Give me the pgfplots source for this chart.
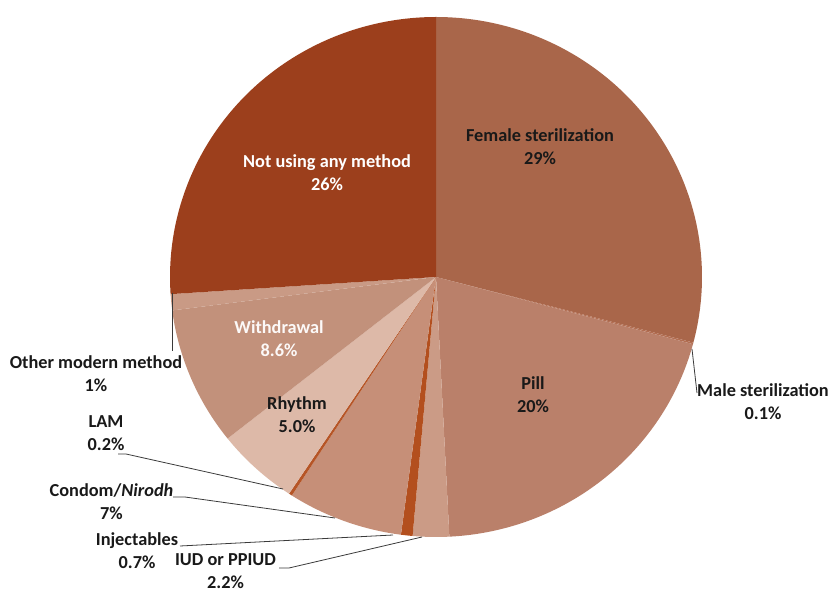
\documentclass[border=0pt]{standalone}
\usepackage{pgfplots}
\usepackage{pgfplotstable}
\pgfplotsset{compat=1.18}
\usepackage{fontspec}
\setmainfont{Carlito}

% slice colours
\definecolor{cFem}{HTML}{A9664A}
\definecolor{cMale}{HTML}{B36E52}
\definecolor{cPill}{HTML}{BA806A}
\definecolor{cIUD}{HTML}{CB9B86}
\definecolor{cInj}{HTML}{B34F1E}
\definecolor{cCond}{HTML}{C68F78}
\definecolor{cLAM}{HTML}{B65526}
\definecolor{cRhy}{HTML}{DDB9A8}
\definecolor{cWith}{HTML}{C2917B}
\definecolor{cOther}{HTML}{C99A85}
\definecolor{cNot}{HTML}{9C3F1C}
\definecolor{leader}{HTML}{3A3A3A}

\tikzset{
  lbl/.style={font=\fontsize{18.3}{23}\selectfont\bfseries, align=center,
    text=black!90, inner sep=0pt},
  lead/.style={leader, line width=0.8pt},
}

% shares in percent, clockwise from 12 o'clock
\pgfplotstableread[col sep=comma]{
share,colour
29,cFem
0.1,cMale
20,cPill
2.2,cIUD
0.7,cInj
7,cCond
0.2,cLAM
5.0,cRhy
8.6,cWith
1,cOther
26,cNot
}\piedata

% total of all shares
\xdef\total{0}
\pgfplotstableforeachcolumnelement{share}\of\piedata\as\v{%
  \pgfmathsetmacro\t{\total+\v}\xdef\total{\t}}

% start and end angle of every slice
\xdef\cum{0}
\pgfplotstableforeachcolumnelement{share}\of\piedata\as\v{%
  \pgfmathsetmacro\a{90-(\cum/\total)*360}%
  \pgfmathsetmacro\c{\cum+\v}\xdef\cum{\c}%
  \pgfmathsetmacro\b{90-(\cum/\total)*360}%
  \expandafter\xdef\csname sliceA\pgfplotstablerow\endcsname{\a}%
  \expandafter\xdef\csname sliceB\pgfplotstablerow\endcsname{\b}}
\pgfplotstableforeachcolumnelement{colour}\of\piedata\as\v{%
  \expandafter\xdef\csname sliceC\pgfplotstablerow\endcsname{\v}}

% pie centre and radii (axis units)
\def\cx{436}\def\cy{315}\def\rx{266}\def\ry{260}

\begin{document}
\begin{tikzpicture}
\begin{axis}[
  scale only axis, width=830pt, height=592pt,
  xmin=0, xmax=830, ymin=0, ymax=592,
  hide axis, clip=false, disabledatascaling,
]
\pgfplotsinvokeforeach{0,...,10}{%
  \edef\slice{\noexpand\fill[\csname sliceC#1\endcsname]
    (axis cs:\cx,\cy) --
    (axis cs:{\cx+\rx*cos(\csname sliceA#1\endcsname)},{\cy+\ry*sin(\csname sliceA#1\endcsname)})
    arc[start angle=\csname sliceA#1\endcsname, end angle=\csname sliceB#1\endcsname,
        x radius=\rx pt, y radius=\ry pt] -- cycle;}%
  \slice
}

% leader lines
\draw[lead] (axis cs:692,243) -- (axis cs:697,199);
\draw[lead] (axis cs:172,299) -- (axis cs:172,241);
\draw[lead] (axis cs:118,138) -- (axis cs:126,138) -- (axis cs:283,103);
\draw[lead] (axis cs:173,95) -- (axis cs:185,95) -- (axis cs:335,74);
\draw[lead] (axis cs:180,46) -- (axis cs:393,57);
\draw[lead] (axis cs:279,24) -- (axis cs:289,24) -- (axis cs:422,55);

% slice labels
\node[lbl] at (axis cs:540,445) {Female sterilization\\29\%};
\node[lbl, text=white] at (axis cs:327,419.5) {Not using any method\\26\%};
\node[lbl] at (axis cs:533,197) {Pill\\20\%};
\node[lbl] at (axis cs:763,190.3) {Male sterilization\\0.1\%};
\node[lbl, text=white!95!cWith] at (axis cs:279,253) {Withdrawal\\8.6\%};
\node[lbl] at (axis cs:297,177) {Rhythm\\5.0\%};
\node[lbl] at (axis cs:96,218.3) {Other modern method\\1\%};
\node[lbl] at (axis cs:106,159) {LAM\\0.2\%};
\node[lbl] at (axis cs:111.5,90) {Condom/\textit{Nirodh}\\7\%};
\node[lbl] at (axis cs:137,41) {Injectables\\0.7\%};
\node[lbl] at (axis cs:225.5,20.5) {IUD or PPIUD\\2.2\%};
\end{axis}
\pgfresetboundingbox
\path (current axis.south west) rectangle (current axis.north east);
\end{tikzpicture}
\end{document}
